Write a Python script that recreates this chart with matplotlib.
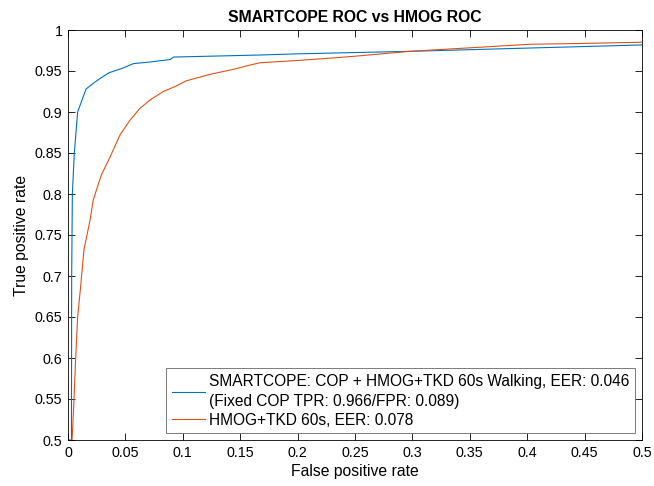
import matplotlib
matplotlib.use("Agg")
import matplotlib.pyplot as plt
from matplotlib.ticker import FixedLocator, FuncFormatter

plt.rcParams['font.family'] = ['Liberation Sans', 'DejaVu Sans']

# SMARTCOPE (blue) ROC points
fpr_smart = [0.0, 0.003, 0.0032, 0.0035, 0.0038, 0.0055, 0.0084, 0.0157, 0.022, 0.028, 0.036,
             0.0468, 0.057, 0.0714, 0.089, 0.092, 0.167, 0.202, 0.298, 0.498, 0.5]
tpr_smart = [0.5, 0.5, 0.7, 0.75, 0.8, 0.85, 0.9, 0.928, 0.935, 0.941, 0.948,
             0.953, 0.959, 0.961, 0.964, 0.967, 0.9695, 0.971, 0.974, 0.9817, 0.982]

# HMOG+TKD (orange) ROC points
fpr_hmog = [0.0035, 0.004, 0.0052, 0.0067, 0.0084, 0.011, 0.0139, 0.0192, 0.022, 0.029, 0.0366,
            0.0453, 0.054, 0.0627, 0.0714, 0.083, 0.0947, 0.103, 0.124, 0.144, 0.155, 0.167,
            0.202, 0.2456, 0.298, 0.359, 0.402, 0.452, 0.498, 0.5]
tpr_hmog = [0.5, 0.512, 0.549, 0.6, 0.65, 0.687, 0.732, 0.768, 0.793, 0.823, 0.845,
            0.872, 0.890, 0.9045, 0.9146, 0.925, 0.932, 0.938, 0.946, 0.952, 0.956, 0.960,
            0.963, 0.9675, 0.974, 0.979, 0.9826, 0.9837, 0.985, 0.9855]

label_smart = "SMARTCOPE: COP + HMOG+TKD 60s Walking, EER: 0.046\n(Fixed COP TPR: 0.966/FPR: 0.089)"
label_hmog = "HMOG+TKD 60s, EER: 0.078"
title = "SMARTCOPE ROC vs HMOG ROC"
xlabel = "False positive rate"
ylabel = "True positive rate"
xticks = [0, 0.05, 0.1, 0.15, 0.2, 0.25, 0.3, 0.35, 0.4, 0.45, 0.5]
yticks = [0.5, 0.55, 0.6, 0.65, 0.7, 0.75, 0.8, 0.85, 0.9, 0.95, 1.0]

fig = plt.figure(figsize=(6.54, 4.86), dpi=100)
ax = fig.add_axes([68/654, 46/486, 574/654, 410/486])

ax.plot(fpr_smart, tpr_smart, color='#0072BD', lw=0.8, label=label_smart)
ax.plot(fpr_hmog, tpr_hmog, color='#D95319', lw=0.8, label=label_hmog)

ax.set_xlim(0, 0.5)
ax.set_ylim(0.5, 1)
ax.xaxis.set_major_locator(FixedLocator(xticks))
ax.yaxis.set_major_locator(FixedLocator(yticks))
fmt = FuncFormatter(lambda v, p: ('%g' % round(v, 2)))
ax.xaxis.set_major_formatter(fmt)
ax.yaxis.set_major_formatter(fmt)
ax.tick_params(direction='in', top=True, right=True, length=5, width=0.6, labelsize=10.3, pad=4)
for s in ax.spines.values():
    s.set_linewidth(0.6)

ax.set_title(title, fontsize=11.3, fontweight='bold', pad=6)
ax.set_xlabel(xlabel, fontsize=11.3, labelpad=3)
ax.set_ylabel(ylabel, fontsize=11.3, labelpad=4)

leg = ax.legend(loc='lower right', fancybox=False, framealpha=1, edgecolor='0.4',
                fontsize=11.2, handlelength=2.15, handletextpad=0.26, borderpad=0.35,
                labelspacing=0.25, borderaxespad=0.45)
leg.get_frame().set_linewidth(0.6)
leg.get_texts()[0].set_linespacing(1.4)

fig.savefig('out.png', dpi=100)
